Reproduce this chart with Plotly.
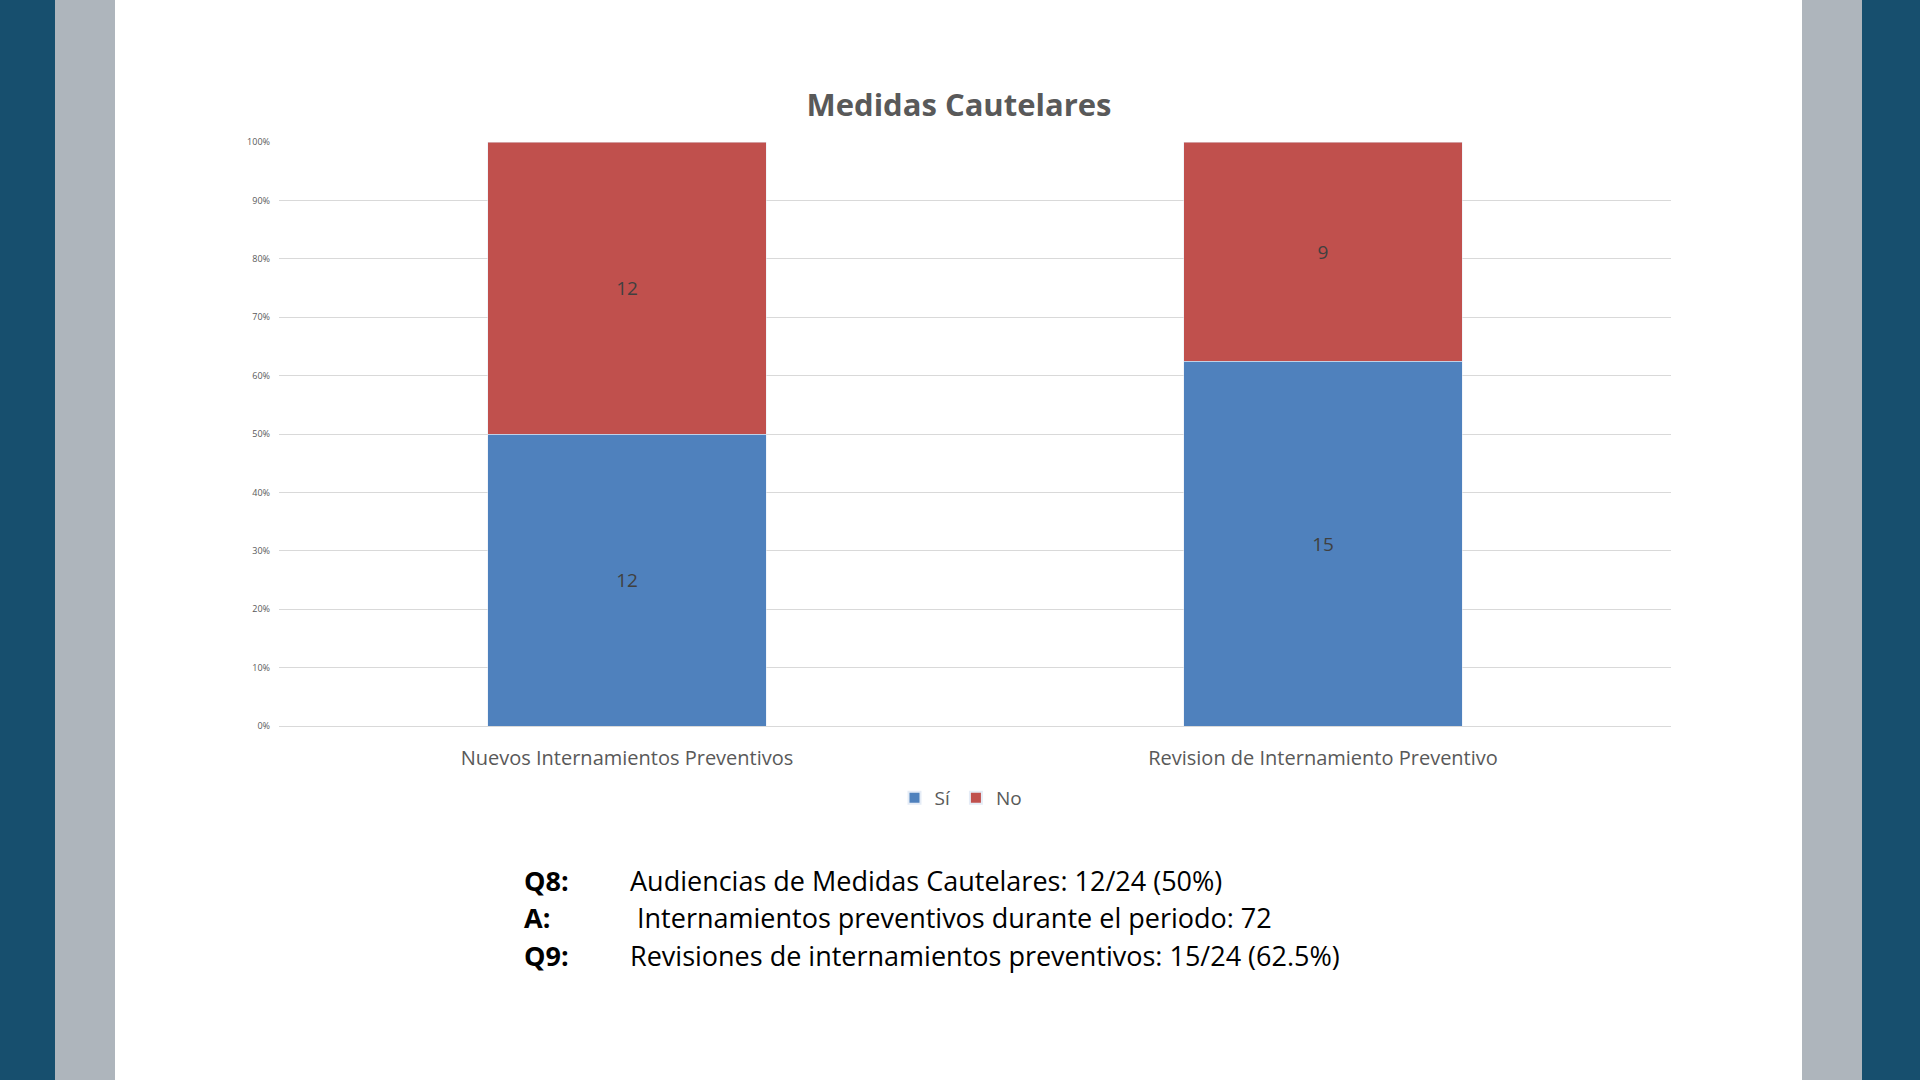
import plotly.graph_objects as go

# data
categories = ['Nuevos Internamientos Preventivos', 'Revision de Internamiento Preventivo']
si_values = [12, 15]
no_values = [12, 9]
y_ticks = [0, 10, 20, 30, 40, 50, 60, 70, 80, 90, 100]

notes = [
    ('Q8:', 'Audiencias de Medidas Cautelares: 12/24 (50%)'),
    ('A:', ' Internamientos preventivos durante el periodo: 72'),
    ('Q9:', 'Revisiones de internamientos preventivos: 15/24 (62.5%)'),
]

W, H = 1920, 1080
L, R, T, B = 279, 1671, 142, 726  # plot area in pixels


def px_x(p):
    return (p - L) / (R - L)


def px_y(p):
    return (B - p) / (B - T)


FONT = 'Open Sans'
DARK = '#595959'

fig = go.Figure()
fig.add_trace(go.Bar(
    x=categories, y=si_values, name='Sí',
    marker_color='#4F81BD',
    text=si_values, textposition='inside', insidetextanchor='middle',
    textfont=dict(size=19, color='#404040', family=FONT),
))
fig.add_trace(go.Bar(
    x=categories, y=no_values, name='No',
    marker_color='#C0504D',
    text=no_values, textposition='inside', insidetextanchor='middle',
    textfont=dict(size=19, color='#404040', family=FONT),
))

# side decorations (slide frame)
for x0, x1, col in [(0, 55, '#174F6E'), (55, 115, '#AEB5BC'),
                    (1802, 1862, '#AEB5BC'), (1862, 1920, '#174F6E')]:
    fig.add_shape(type='rect', xref='paper', yref='paper',
                  x0=px_x(x0), x1=px_x(x1), y0=px_y(H), y1=px_y(0),
                  fillcolor=col, line_width=0, layer='below')

# notes under the chart
for i, (label, text) in enumerate(notes):
    yy = px_y(880 + i * 37.5)
    fig.add_annotation(x=px_x(522), y=yy, xref='paper', yref='paper',
                       text='<b>' + label + '</b>', showarrow=False,
                       xanchor='left', yanchor='middle',
                       font=dict(size=27, color='#000000', family=FONT))
    fig.add_annotation(x=px_x(628), y=yy, xref='paper', yref='paper',
                       text=text, showarrow=False,
                       xanchor='left', yanchor='middle',
                       font=dict(size=27, color='#000000', family=FONT))

fig.update_layout(
    width=W, height=H,
    barmode='stack', barnorm='percent', bargap=0.6,
    margin=dict(l=L, r=W - R, t=T, b=H - B, pad=0),
    paper_bgcolor='white', plot_bgcolor='white',
    title=dict(text='<b>Medidas Cautelares</b>', x=px_x(959), xref='paper',
               y=1 - 105 / H, yref='container', xanchor='center', yanchor='middle',
               font=dict(size=31, color=DARK, family=FONT)),
    font=dict(family=FONT, color=DARK),
    legend=dict(orientation='h', x=px_x(961), y=px_y(798), xanchor='center', yanchor='middle',
                font=dict(size=19, color=DARK, family=FONT), traceorder='normal',
                itemwidth=30, itemsizing='constant'),
    showlegend=True,
)
fig.update_yaxes(range=[0, 100], tickvals=y_ticks, ticktext=[f'{v}%' for v in y_ticks],
                 showgrid=True, gridcolor='#D9D9D9', gridwidth=1,
                 zeroline=False, showline=False, ticks='',
                 tickfont=dict(size=9, color=DARK, family=FONT), ticklabelstandoff=8)
fig.update_xaxes(showgrid=False, showline=True, linecolor='#D9D9D9', ticks='',
                 tickfont=dict(size=20, color=DARK, family=FONT), ticklabelstandoff=14)

fig.write_html('out.html', config={'displayModeBar': False},
               post_script="document.body.style.margin='0';document.body.style.overflow='hidden';")
